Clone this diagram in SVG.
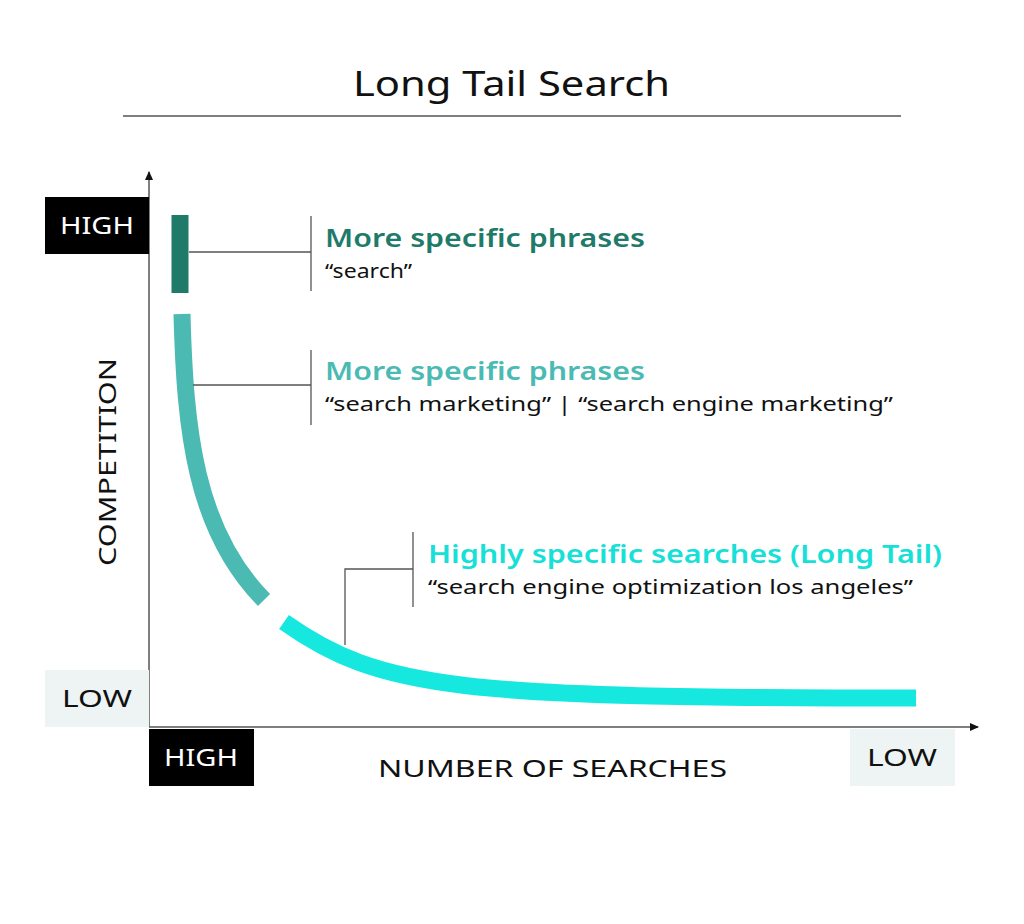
<svg xmlns="http://www.w3.org/2000/svg" width="1024" height="924" viewBox="0 0 1024 924">
<defs>
<style>
text{font-family:"Noto Sans","Open Sans",sans-serif;}
.ax{stroke:#555;stroke-width:1.5;fill:none}
.ld{stroke:#555;stroke-width:1.3;fill:none}
.h{font-size:25px;font-weight:600}
.s{font-size:20px;fill:#111}
.bl{font-size:24px;fill:#111}
</style>
<marker id="ar" markerWidth="10" markerHeight="10" refX="8" refY="5" orient="auto" markerUnits="userSpaceOnUse"><path d="M0,1 L9,5 L0,9 Z" fill="#111"/></marker>
</defs>
<rect width="1024" height="924" fill="#fff"/>
<g id="title">
<text x="353" y="96" font-size="35" fill="#111" textLength="317" lengthAdjust="spacingAndGlyphs">Long Tail Search</text>
<line x1="123" y1="116" x2="901" y2="116" stroke="#555" stroke-width="1.3"/>
</g>
<g id="axes">
<line class="ax" x1="149" y1="727" x2="149" y2="172" marker-end="url(#ar)"/>
<line class="ax" x1="149" y1="727" x2="978" y2="727" marker-end="url(#ar)"/>
</g>
<g id="y-high"><rect x="45" y="197" width="104" height="57" fill="#000"/><text class="bl" x="60" y="234" textLength="74" lengthAdjust="spacingAndGlyphs" style="fill:#fff">HIGH</text></g>
<g id="y-low"><rect x="45" y="670" width="104" height="57" fill="#eef4f4"/><text class="bl" x="62" y="707" textLength="70" lengthAdjust="spacingAndGlyphs">LOW</text></g>
<g id="x-high"><rect x="149" y="729" width="105" height="57" fill="#000"/><text class="bl" x="164" y="766" textLength="74" lengthAdjust="spacingAndGlyphs" style="fill:#fff">HIGH</text></g>
<g id="x-low"><rect x="850" y="729" width="105" height="57" fill="#eef4f4"/><text class="bl" x="867" y="766" textLength="70" lengthAdjust="spacingAndGlyphs">LOW</text></g>
<g id="x-label"><text class="bl" x="378" y="777" textLength="349" lengthAdjust="spacingAndGlyphs">NUMBER OF SEARCHES</text></g>
<g id="y-label"><text class="bl" x="0" y="0" textLength="208" lengthAdjust="spacingAndGlyphs" transform="translate(116,566) rotate(-90)">COMPETITION</text></g>
<g id="curve">
<path d="M180,215 L180,293" stroke="#1f7a6a" stroke-width="17" fill="none"/>
<path d="M182,314 C185,430 195,530 264,600" stroke="#4bbab3" stroke-width="17" fill="none"/>
<path d="M284,622 C380,690 460,698 916,698" stroke="#16e8e0" stroke-width="17" fill="none"/>
</g>
<g id="connectors">
<line class="ld" x1="189" y1="252" x2="311" y2="252"/>
<line class="ld" x1="311" y1="216" x2="311" y2="291"/>
<line class="ld" x1="193" y1="385" x2="311" y2="385"/>
<line class="ld" x1="311" y1="350" x2="311" y2="425"/>
<polyline class="ld" points="345,645 345,569 413,569"/>
<line class="ld" x1="413" y1="532" x2="413" y2="607"/>
</g>
<g id="n1"><text class="h" x="325" y="247" fill="#1f7a6a" textLength="320" lengthAdjust="spacingAndGlyphs">More specific phrases</text><text class="s" x="325" y="278" textLength="87" lengthAdjust="spacingAndGlyphs">“search”</text></g>
<g id="n2"><text class="h" x="325" y="380" fill="#4bbab3" textLength="320" lengthAdjust="spacingAndGlyphs">More specific phrases</text><text class="s" x="325" y="411" textLength="568" lengthAdjust="spacingAndGlyphs">“search marketing”  |  “search engine marketing”</text></g>
<g id="n3"><text class="h" x="428" y="563" fill="#16e0d8" textLength="514" lengthAdjust="spacingAndGlyphs">Highly specific searches (Long Tail)</text><text class="s" x="428" y="594" textLength="485" lengthAdjust="spacingAndGlyphs">“search engine optimization los angeles”</text></g>
</svg>
